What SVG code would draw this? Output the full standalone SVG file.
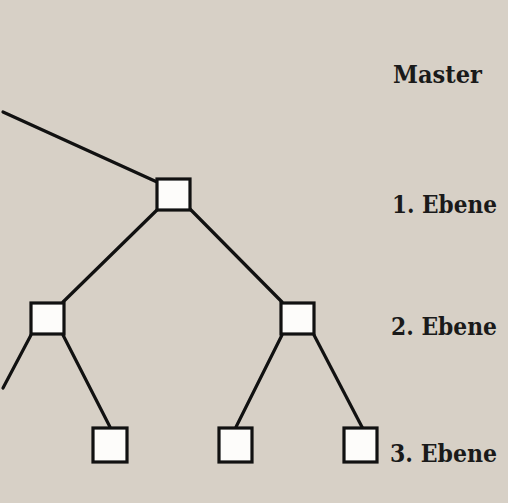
<svg xmlns="http://www.w3.org/2000/svg" width="508" height="503" viewBox="0 0 508 503">
<style>
.n rect{fill:#fdfcfa;stroke:#111;stroke-width:3.2}
#connectors line{stroke:#111;stroke-width:3.2;stroke-linecap:round}
text{font-family:"DejaVu Serif","Liberation Serif",serif;font-weight:bold;font-size:24px;fill:#1a1a1a}
</style>
<rect x="0" y="0" width="508" height="503" fill="#d7d0c6"/>
<g id="connectors">
<line x1="3" y1="112" x2="157" y2="182"/>
<line x1="158" y1="209" x2="63" y2="302"/>
<line x1="190" y1="209" x2="282" y2="302"/>
<line x1="31" y1="335" x2="3" y2="388"/>
<line x1="63" y1="335" x2="110" y2="427"/>
<line x1="282" y1="335" x2="236" y2="427"/>
<line x1="314" y1="335" x2="362" y2="427"/>
</g>
<g id="n1" class="n"><rect x="157" y="179" width="33" height="31"/></g>
<g id="n2l" class="n"><rect x="31" y="303" width="33" height="31"/></g>
<g id="n2r" class="n"><rect x="281" y="303" width="33" height="31"/></g>
<g id="n3a" class="n"><rect x="93" y="428" width="34" height="34"/></g>
<g id="n3b" class="n"><rect x="219" y="428" width="33" height="34"/></g>
<g id="n3c" class="n"><rect x="344" y="428" width="33" height="34"/></g>
<g id="labels">
<text x="393" y="83" textLength="89" lengthAdjust="spacingAndGlyphs">Master</text>
<text x="392" y="213" textLength="105" lengthAdjust="spacingAndGlyphs">1. Ebene</text>
<text x="391" y="335" textLength="106" lengthAdjust="spacingAndGlyphs">2. Ebene</text>
<text x="390" y="462" textLength="107" lengthAdjust="spacingAndGlyphs">3. Ebene</text>
</g>
</svg>
